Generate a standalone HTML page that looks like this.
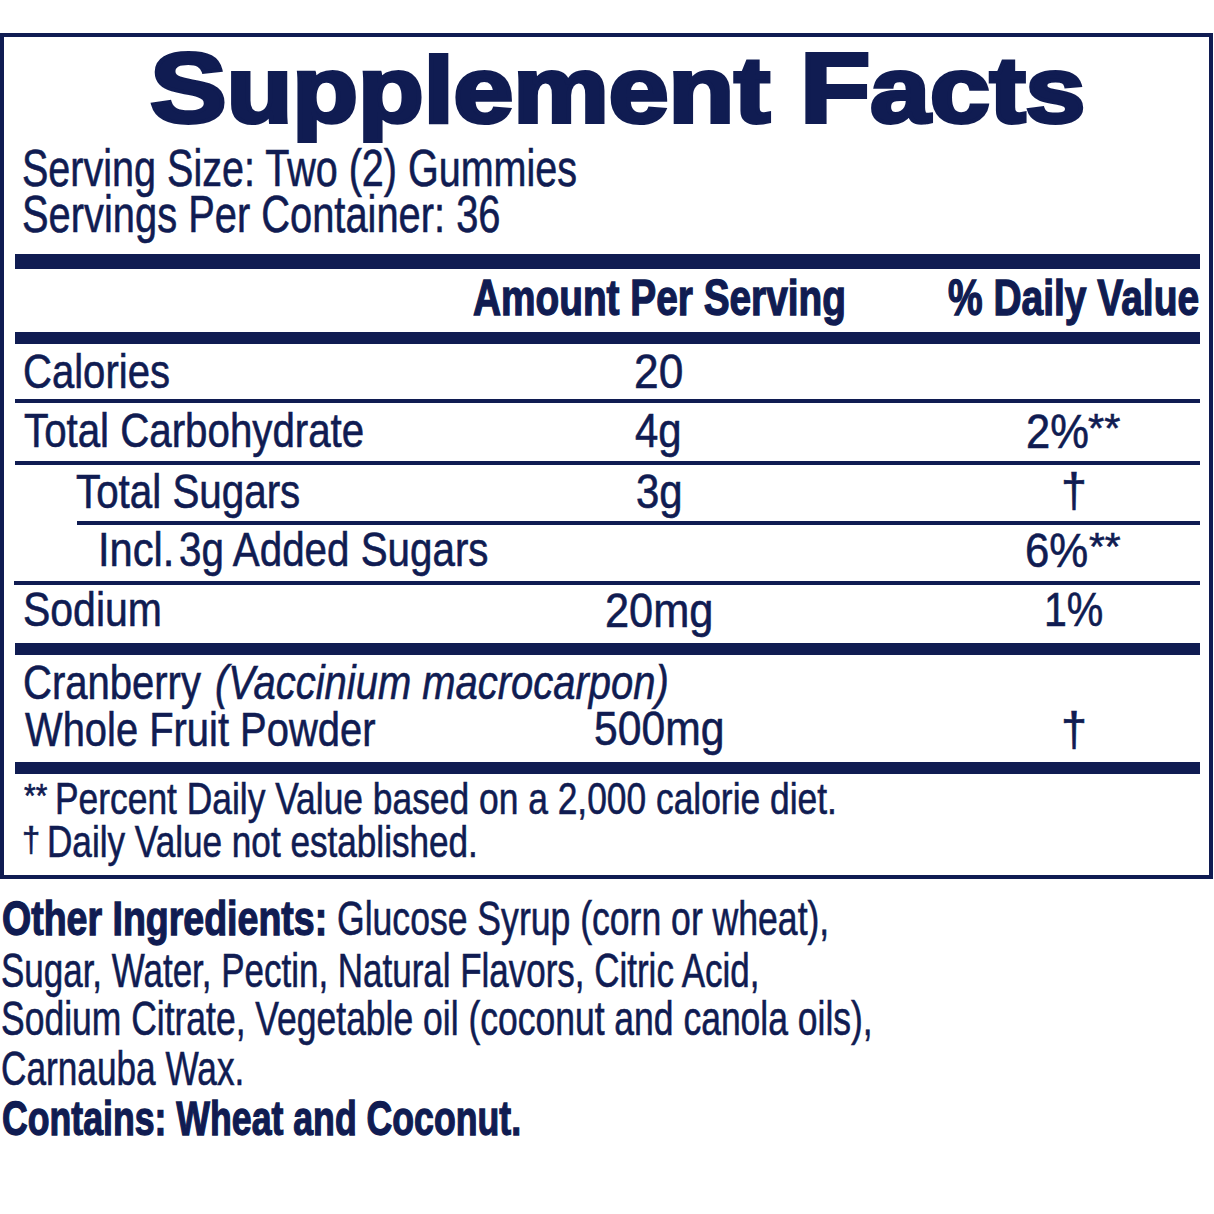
<!DOCTYPE html><html><head><meta charset="utf-8"><style>
html,body{margin:0;padding:0;background:#fff;width:1214px;height:1214px;overflow:hidden;position:relative}
.t{position:absolute;white-space:nowrap;line-height:1;transform-origin:0 0;color:#101c52;font-family:"Liberation Sans",sans-serif;-webkit-text-stroke:0.6px #101c52}
.r{position:absolute;background:#101c52}
.box{position:absolute;left:0;top:32.5px;width:1213px;height:846px;box-sizing:border-box;border:4px solid #101c52}

#wrap{position:absolute;left:0;top:0;width:1214px;height:1214px}
</style></head><body><div id="wrap">
<div class="box"></div>
<div class="r" style="left:15px;top:253.5px;width:1185px;height:15.5px"></div>
<div class="r" style="left:15px;top:332px;width:1185px;height:12px"></div>
<div class="r" style="left:15px;top:399px;width:1185px;height:3.5px"></div>
<div class="r" style="left:15px;top:461px;width:1185px;height:3.5px"></div>
<div class="r" style="left:77px;top:521px;width:1123px;height:3.5px"></div>
<div class="r" style="left:14px;top:581px;width:1186px;height:3.5px"></div>
<div class="r" style="left:15px;top:643px;width:1185px;height:12px"></div>
<div class="r" style="left:15px;top:762px;width:1185px;height:12px"></div>

<div class="t" id="title" style="left:149.85px;top:39.46px;font-size:92.33px;font-weight:700;transform:scaleX(1.1640);-webkit-text-stroke:4px #101c52"><span style="font-size:1.07em">S</span>upplement <span style="font-size:1.07em">F</span>acts</div>
<div class="t" id="ss1" style="left:21.79px;top:142.51px;font-size:51.20px;font-weight:400;transform:scaleX(0.7723)">Serving Size: Two (2) Gummies</div>
<div class="t" id="ss2" style="left:21.75px;top:188.87px;font-size:51.20px;font-weight:400;transform:scaleX(0.7786)">Servings Per Container: 36</div>
<div class="t" id="aps" style="left:473.05px;top:273.04px;font-size:50.30px;font-weight:700;transform:scaleX(0.7714);-webkit-text-stroke:1.4px #101c52">Amount Per Serving</div>
<div class="t" id="pdv" style="left:948.20px;top:273.15px;font-size:50.30px;font-weight:700;transform:scaleX(0.7742);-webkit-text-stroke:1.4px #101c52">% Daily Value</div>
<div class="t" id="cal" style="left:22.68px;top:347.39px;font-size:48.30px;font-weight:400;transform:scaleX(0.8295)">Calories</div>
<div class="t" id="cal_a" style="left:633.65px;top:347.45px;font-size:48.30px;font-weight:400;transform:scaleX(0.9169)">20</div>
<div class="t" id="tc" style="left:23.62px;top:406.37px;font-size:48.30px;font-weight:400;transform:scaleX(0.8336)">Total Carbohydrate</div>
<div class="t" id="tc_a" style="left:634.77px;top:406.37px;font-size:48.30px;font-weight:400;transform:scaleX(0.8667)">4g</div>
<div class="t" id="tc_d" style="left:1025.88px;top:407.38px;font-size:48.30px;font-weight:400;transform:scaleX(0.9005)">2%</div>
<div class="t" id="tc_s" style="left:1087.98px;top:408.71px;font-size:39.76px;font-weight:400;transform:scaleX(1.0432)">**</div>
<div class="t" id="ts" style="left:75.84px;top:466.76px;font-size:48.30px;font-weight:400;transform:scaleX(0.8355)">Total Sugars</div>
<div class="t" id="ts_a" style="left:635.95px;top:467.21px;font-size:48.30px;font-weight:400;transform:scaleX(0.8683)">3g</div>
<div class="t" id="ts_d" style="left:1060.64px;top:465.89px;font-size:48.52px;font-weight:400;transform:scaleX(0.9597)">&#8224;</div>
<div class="t" id="as_a" style="left:98.36px;top:525.28px;font-size:48.30px;font-weight:400;transform:scaleX(0.8628)">Incl.</div>
<div class="t" id="as_b" style="left:179.05px;top:525.28px;font-size:48.30px;font-weight:400;transform:scaleX(0.8352)">3g Added Sugars</div>
<div class="t" id="as_d" style="left:1024.95px;top:526.45px;font-size:48.30px;font-weight:400;transform:scaleX(0.9066)">6%</div>
<div class="t" id="as_s" style="left:1088.83px;top:527.79px;font-size:38.44px;font-weight:400;transform:scaleX(1.0587)">**</div>
<div class="t" id="sod" style="left:22.65px;top:584.99px;font-size:48.30px;font-weight:400;transform:scaleX(0.8484)">Sodium</div>
<div class="t" id="sod_a" style="left:604.93px;top:586.47px;font-size:48.30px;font-weight:400;transform:scaleX(0.8970)">20mg</div>
<div class="t" id="sod_d" style="left:1044.46px;top:585.01px;font-size:48.30px;font-weight:400;transform:scaleX(0.8497)">1%</div>
<div class="t" id="cr1a" style="left:23.24px;top:657.98px;font-size:48.30px;font-weight:400;transform:scaleX(0.8287)">Cranberry</div>
<div class="t" id="cr1b" style="left:214.95px;top:657.98px;font-size:48.30px;font-weight:400;font-style:italic;transform:scaleX(0.8275)">(Vaccinium macrocarpon)</div>
<div class="t" id="cr2" style="left:24.59px;top:704.54px;font-size:48.30px;font-weight:400;transform:scaleX(0.8263)">Whole Fruit Powder</div>
<div class="t" id="cr2_a" style="left:593.60px;top:704.06px;font-size:48.30px;font-weight:400;transform:scaleX(0.8827)">500mg</div>
<div class="t" id="cr2_d" style="left:1060.64px;top:705.54px;font-size:47.47px;font-weight:400;transform:scaleX(0.9862)">&#8224;</div>
<div class="t" id="fn1b" style="left:55.31px;top:776.63px;font-size:43.90px;font-weight:400;transform:scaleX(0.8058)">Percent Daily Value based on a 2,000 calorie diet.</div>
<div class="t" id="fn1a" style="left:23.53px;top:779.97px;font-size:32.56px;font-weight:400;transform:scaleX(0.9195)">**</div>
<div class="t" id="fn2b" style="left:46.57px;top:819.87px;font-size:43.90px;font-weight:400;transform:scaleX(0.8003)">Daily Value not established.</div>
<div class="t" id="fn2a" style="left:21.76px;top:823.35px;font-size:35.42px;font-weight:400;transform:scaleX(0.9240)">&#8224;</div>
<div class="t" id="oi1a" style="left:2.10px;top:895.41px;font-size:47.70px;font-weight:700;transform:scaleX(0.7867);-webkit-text-stroke:1.3px #101c52">Other Ingredients:</div>
<div class="t" id="oi1b" style="left:337.46px;top:895.41px;font-size:47.70px;font-weight:400;transform:scaleX(0.7459)">Glucose Syrup (corn or wheat),</div>
<div class="t" id="oi2" style="left:1.18px;top:946.87px;font-size:47.70px;font-weight:400;transform:scaleX(0.7331)">Sugar, Water, Pectin, Natural Flavors, Citric Acid,</div>
<div class="t" id="oi3" style="left:1.15px;top:995.15px;font-size:47.70px;font-weight:400;transform:scaleX(0.7440)">Sodium Citrate, Vegetable oil (coconut and canola oils),</div>
<div class="t" id="oi4" style="left:1.13px;top:1044.87px;font-size:47.70px;font-weight:400;transform:scaleX(0.7382)">Carnauba Wax.</div>
<div class="t" id="oi5" style="left:2.14px;top:1095.44px;font-size:47.70px;font-weight:700;transform:scaleX(0.7479);-webkit-text-stroke:1.3px #101c52">Contains: Wheat and Coconut.</div>
</div></body></html>
